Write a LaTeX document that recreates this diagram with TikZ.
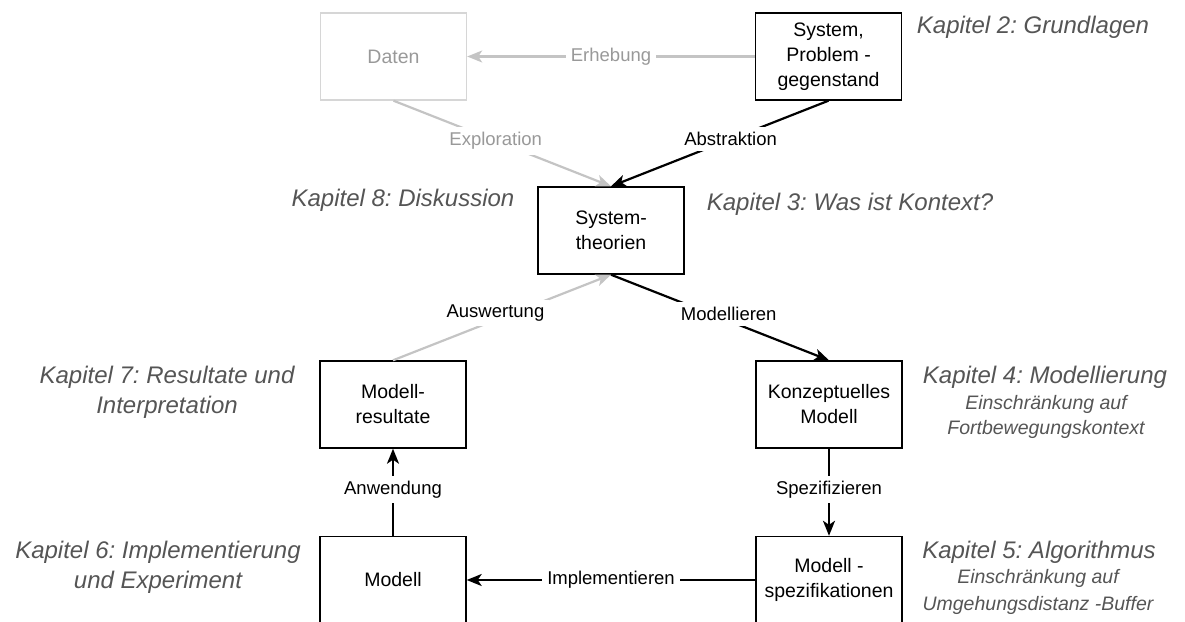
\documentclass[tikz,border=0pt]{standalone}
\usepackage{fontspec}
\setmainfont{Liberation Sans}
\usetikzlibrary{arrows.meta}
\definecolor{kapc}{HTML}{555555}
\definecolor{lgray}{HTML}{C4C4C4}
\definecolor{tgray}{HTML}{999999}
\definecolor{bgray}{HTML}{D6D6D6}
\tikzset{
  box/.style={draw=black, line width=1.4pt, minimum width=146pt, minimum height=87pt,
    align=center, inner sep=0pt, font=\fontsize{19.5}{25}\selectfont},
  ghostbox/.style={box, draw=bgray, text=tgray},
  conn/.style={line width=2.2pt, -{Stealth[length=15pt,width=12pt,inset=4pt]}},
  ghostconn/.style={conn, draw=lgray, color=lgray},
  lbl/.style={fill=white, inner sep=5pt, text=black, font=\fontsize{18.5}{22}\selectfont},
  glbl/.style={lbl, text=tgray},
  kap/.style={text=kapc, align=center, font=\fontsize{24}{30}\selectfont\itshape},
  kapsub/.style={text=kapc, align=center, font=\fontsize{19.5}{25}\selectfont\itshape},
}
\begin{document}
\frenchspacing
\begin{tikzpicture}[x=1pt,y=-1pt]
\useasboundingbox (0,0) rectangle (1185,621);
% boxes
\node[ghostbox] (daten) at (393.5,56.5) {Daten};
\node[box] (sys) at (828.5,56.5) {System,\\Problem -\\gegenstand};
\node[box] (theo) at (611,230.5) {System-\\theorien};
\node[box] (kon) at (829,404.5) {Konzeptuelles\\Modell};
\node[box] (spez) at (829,580) {Modell -\\spezifikationen};
\node[box] (modell) at (393,580) {Modell};
\node[box] (res) at (393,404.5) {Modell-\\resultate};
% connectors
\draw[ghostconn] (sys.west) -- node[glbl, pos=0.5] {Erhebung} (daten.east);
\draw[ghostconn] (daten.south) -- node[glbl, pos=0.47] {Exploration} (theo.north);
\draw[conn] (sys.south) -- node[lbl, pos=0.45] {Abstraktion} (theo.north);
\draw[ghostconn] (res.north) -- node[lbl, pos=0.47, yshift=7pt] {Auswertung} (theo.south);
\draw[conn] (theo.south) -- node[lbl, pos=0.54, yshift=7pt] {Modellieren} (kon.north);
\draw[conn] (kon.south) -- node[lbl, pos=0.47] {Spezifizieren} (spez.north);
\draw[conn] (spez.west) -- node[lbl, pos=0.5] {Implementieren} (modell.east);
\draw[conn] (modell.north) -- node[lbl, pos=0.53] {Anwendung} (res.south);
% chapter labels
\node[kap] (k2) at (1033,27) {Kapitel 2: Grundlagen};
\node[kap] (k8) at (403,200) {Kapitel 8: Diskussion};
\node[kap] (k3) at (850,204) {Kapitel 3: Was ist Kontext?};
\node[kap] (k7) at (167,392.5) {Kapitel 7: Resultate und\\Interpretation};
\node[kap] (k6) at (158,567) {Kapitel 6: Implementierung\\und Experiment};
\node[kap] (k4) at (1045,377) {Kapitel 4: Modellierung};
\node[kapsub] (k4s) at (1046,416.5) {Einschränkung auf\\Fortbewegungskontext};
\node[kap] (k5) at (1039,552) {Kapitel 5: Algorithmus};
\node[kapsub, font=\fontsize{19.5}{27}\selectfont\itshape] (k5s) at (1038,591.5) {Einschränkung auf\\Umgehungsdistanz -Buffer};
\end{tikzpicture}
\end{document}
